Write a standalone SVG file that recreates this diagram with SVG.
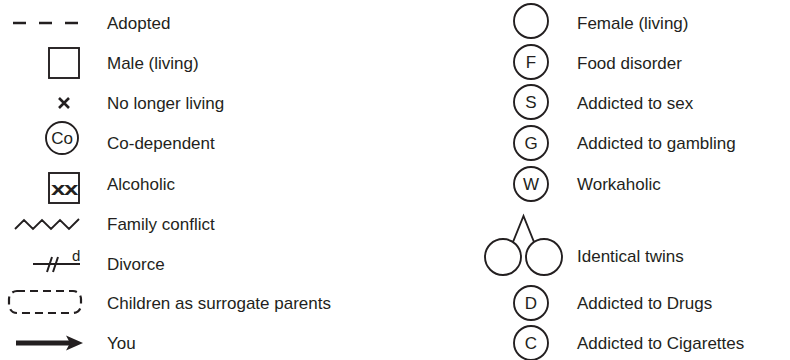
<svg xmlns="http://www.w3.org/2000/svg" width="790" height="360" viewBox="0 0 790 360">
  <style>
    .lbl { font-family: "Liberation Sans", Arial, Helvetica, sans-serif; font-size: 17px; fill: #231f20; }
    .sym { fill: none; stroke: #231f20; stroke-width: 1.9; }
    .in { font-family: "Liberation Sans", Arial, Helvetica, sans-serif; font-size: 17px; fill: #231f20; text-anchor: middle; }
  </style>
  <rect width="790" height="360" fill="#ffffff"/>

  <!-- left column keys -->
  <g id="adopted">
    <line x1="13" y1="23" x2="80" y2="23" stroke="#231f20" stroke-width="2.4" stroke-dasharray="13 13"/>
    <text class="lbl" x="107" y="29">Adopted</text>
  </g>
  <g id="male">
    <rect class="sym" x="49" y="48" width="30" height="30"/>
    <text class="lbl" x="107" y="69">Male (living)</text>
  </g>
  <g id="deceased">
    <path d="M59,98 L69,108 M69,98 L59,108" stroke="#231f20" stroke-width="2.6" fill="none"/>
    <text class="lbl" x="107" y="109">No longer living</text>
  </g>
  <g id="codependent">
    <circle class="sym" cx="62" cy="138" r="16"/>
    <text class="in" x="62" y="144" style="font-size:17px">Co</text>
    <text class="lbl" x="107" y="149">Co-dependent</text>
  </g>
  <g id="alcoholic">
    <rect class="sym" x="49" y="173" width="30" height="30"/>
    <text class="in" x="64" y="195" style="font-weight:bold;font-size:18px;letter-spacing:-1px" textLength="26" lengthAdjust="spacingAndGlyphs">xx</text>
    <text class="lbl" x="107" y="190">Alcoholic</text>
  </g>
  <g id="conflict">
    <polyline class="sym" points="15,229 24,220 33,229 42,220 51,229 60,220 69,229 79,219"/>
    <text class="lbl" x="107" y="230">Family conflict</text>
  </g>
  <g id="divorce">
    <line x1="33" y1="264" x2="80" y2="264" stroke="#231f20" stroke-width="1.9"/>
    <path d="M52,257 L47,272 M58,257 L53,272" stroke="#231f20" stroke-width="2" fill="none"/>
    <text x="72" y="261" style="font-family:'Liberation Sans',Arial,sans-serif;font-size:15px;fill:#231f20">d</text>
    <text class="lbl" x="107" y="270">Divorce</text>
  </g>
  <g id="surrogate">
    <rect x="9" y="291" width="72" height="22" rx="8" fill="none" stroke="#231f20" stroke-width="2.2" stroke-dasharray="8 5"/>
    <text class="lbl" x="107" y="309">Children as surrogate parents</text>
  </g>
  <g id="you">
    <line x1="16" y1="343" x2="70" y2="343" stroke="#231f20" stroke-width="5"/>
    <path d="M66,335.5 L83,343 L66,350.5 L70,343 Z" fill="#231f20"/>
    <text class="lbl" x="107" y="349">You</text>
  </g>

  <!-- right column keys -->
  <g id="female">
    <circle class="sym" cx="531" cy="21" r="17"/>
    <text class="lbl" x="577" y="29">Female (living)</text>
  </g>
  <g id="food">
    <circle class="sym" cx="531" cy="62" r="17"/>
    <text class="in" x="531" y="68">F</text>
    <text class="lbl" x="577" y="69">Food disorder</text>
  </g>
  <g id="sex">
    <circle class="sym" cx="531" cy="102" r="17"/>
    <text class="in" x="531" y="108">S</text>
    <text class="lbl" x="577" y="109">Addicted to sex</text>
  </g>
  <g id="gambling">
    <circle class="sym" cx="531" cy="143" r="17"/>
    <text class="in" x="531" y="149">G</text>
    <text class="lbl" x="577" y="149">Addicted to gambling</text>
  </g>
  <g id="workaholic">
    <circle class="sym" cx="531" cy="184" r="17"/>
    <text class="in" x="531" y="190">W</text>
    <text class="lbl" x="577" y="190">Workaholic</text>
  </g>
  <g id="twins">
    <circle class="sym" cx="503" cy="257" r="18"/>
    <circle class="sym" cx="544" cy="257" r="18"/>
    <text class="lbl" x="577" y="262">Identical twins</text>
  </g>
  <g id="drugs">
    <circle class="sym" cx="531" cy="303" r="17"/>
    <text class="in" x="531" y="309">D</text>
    <text class="lbl" x="577" y="309">Addicted to Drugs</text>
  </g>
  <g id="cigarettes">
    <circle class="sym" cx="531" cy="343" r="17"/>
    <text class="in" x="531" y="349">C</text>
    <text class="lbl" x="577" y="349">Addicted to Cigarettes</text>
  </g>

  <!-- connectors -->
  <g id="connectors">
    <path class="sym" d="M513,242 L523.5,216 L534,242"/>
  </g>
</svg>
